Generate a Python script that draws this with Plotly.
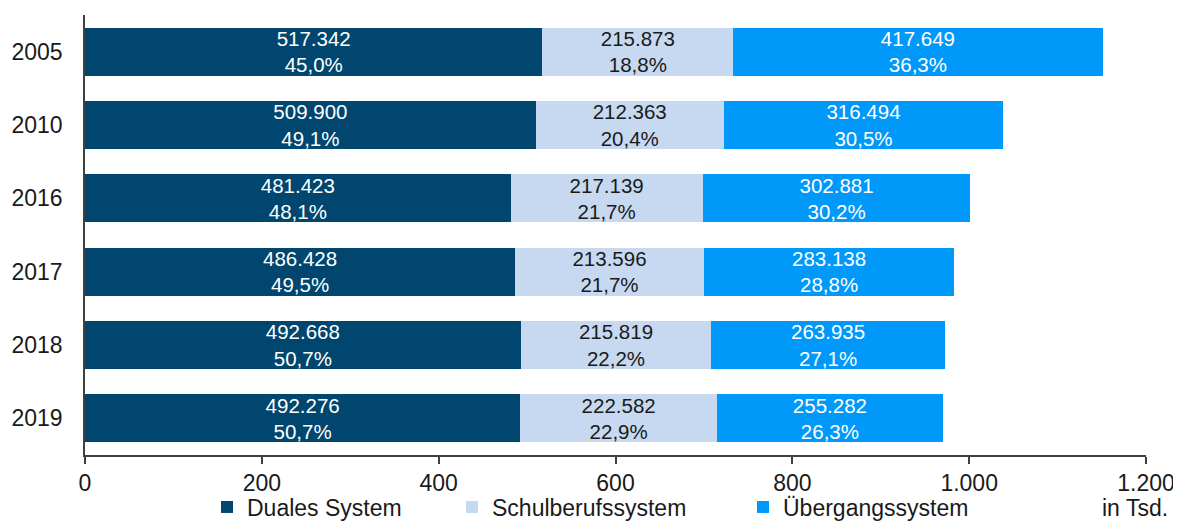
import plotly.graph_objects as go

years = ["2005", "2010", "2016", "2017", "2018", "2019"]
duales = [517342, 509900, 481423, 486428, 492668, 492276]
schul = [215873, 212363, 217139, 213596, 215819, 222582]
uebergang = [417649, 316494, 302881, 283138, 263935, 255282]
duales_pct = [45.0, 49.1, 48.1, 49.5, 50.7, 50.7]
schul_pct = [18.8, 20.4, 21.7, 21.7, 22.2, 22.9]
uebergang_pct = [36.3, 30.5, 30.2, 28.8, 27.1, 26.3]
x_ticks = [0, 200, 400, 600, 800, 1000, 1200]
x_ticklabels = ["0", "200", "400", "600", "800", "1.000", "1.200"]

FONT = "Liberation Sans, Arial, sans-serif"
TXT = "#1a1a1a"

# page has an 8px body margin; figure fills the rest of the 1181x522 window
W, H = 1173, 514
L, T = 77, 7
PW, PH = 1061, 440
R, B = W - L - PW, H - T - PH


def fmt_num(v):
    return f"{v:,}".replace(",", ".")


def fmt_pct(p):
    return f"{p:.1f}%".replace(".", ",")


series = [
    ("Duales System", duales, duales_pct, "#00466e", "white", "legend", 207),
    ("Schulberufssystem", schul, schul_pct, "#c6d9f0", TXT, "legend2", 452),
    ("Übergangssystem", uebergang, uebergang_pct, "#0099fa", "white", "legend3", 743),
]

fig = go.Figure()
for name, vals, pcts, color, tcolor, leg, _ in series:
    fig.add_trace(go.Bar(
        y=years,
        x=[v / 1000 for v in vals],
        orientation="h",
        name=name,
        marker=dict(color=color, line=dict(width=0)),
        text=[f"{fmt_num(v)}<br>{fmt_pct(p)}" for v, p in zip(vals, pcts)],
        textposition="inside",
        insidetextanchor="middle",
        textangle=0,
        textfont=dict(color=tcolor, size=20.5, family=FONT),
        legend=leg,
        showlegend=True,
        hoverinfo="skip",
    ))

legend_y = (T + PH - (507 - 8)) / PH


def legend_cfg(page_x):
    return dict(
        orientation="h",
        yanchor="middle",
        xanchor="left",
        x=(page_x - 8 - L) / PW,
        y=legend_y,
        font=dict(size=23, family=FONT, color=TXT),
        bgcolor="rgba(0,0,0,0)",
        borderwidth=0,
        itemwidth=30,
    )


fig.update_layout(
    barmode="stack",
    bargap=0.345,
    width=W,
    height=H,
    autosize=False,
    margin=dict(l=L, r=R, t=T, b=B, autoexpand=False),
    plot_bgcolor="white",
    paper_bgcolor="white",
    showlegend=True,
    font=dict(family=FONT, size=22, color=TXT),
    uniformtext=dict(mode="show", minsize=20.5),
    legend=legend_cfg(series[0][6]),
    legend2=legend_cfg(series[1][6]),
    legend3=legend_cfg(series[2][6]),
    xaxis=dict(
        range=[0, 1200],
        tickvals=x_ticks,
        ticktext=x_ticklabels,
        showgrid=False,
        zeroline=False,
        showline=True,
        linecolor="#404040",
        linewidth=1.5,
        ticks="outside",
        ticklen=7,
        tickwidth=1.5,
        tickcolor="#404040",
        ticklabeloverflow="allow",
        tickfont=dict(size=23, family=FONT, color=TXT),
    ),
    yaxis=dict(
        autorange="reversed",
        showgrid=False,
        zeroline=False,
        showline=True,
        linecolor="#404040",
        linewidth=1.5,
        ticks="",
        ticklabelstandoff=16,
        tickfont=dict(size=23, family=FONT, color=TXT),
    ),
    annotations=[dict(
        text="in Tsd.",
        xref="paper", yref="paper",
        x=(1135 - 8 - L) / PW, y=(T + PH - (508 - 8)) / PH,
        xanchor="center", yanchor="middle",
        showarrow=False,
        font=dict(size=23, family=FONT, color=TXT),
    )],
)

fig.write_html("out.html")
